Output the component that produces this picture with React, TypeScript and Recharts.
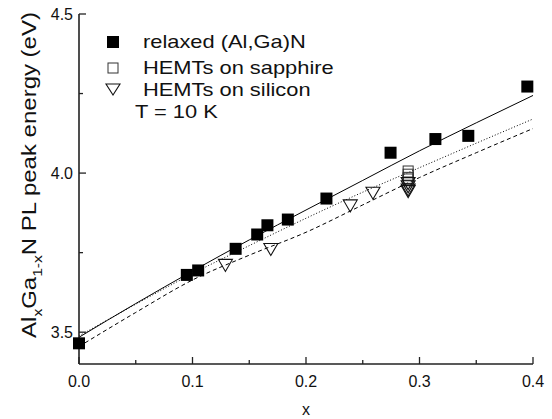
import React from 'react';
import {
  ComposedChart, Line, Scatter, XAxis, YAxis, Label,
} from 'recharts';

// measured points
const relaxedX = [0.0, 0.095, 0.105, 0.138, 0.157, 0.166, 0.184, 0.218, 0.2745, 0.314, 0.343, 0.395];
const relaxedY = [3.465, 3.68, 3.694, 3.762, 3.807, 3.836, 3.854, 3.92, 4.064, 4.107, 4.117, 4.272];

const sapphireX = [0.29, 0.29, 0.29, 0.29];
const sapphireY = [4.005, 3.995, 3.985, 3.98];

const siliconX = [0.129, 0.169, 0.239, 0.259, 0.29, 0.29, 0.29, 0.29];
const siliconY = [3.713, 3.763, 3.90, 3.94, 3.97, 3.96, 3.95, 3.945];

// fit curves
const fitX = [0, 0.05, 0.1, 0.15, 0.2, 0.25, 0.3, 0.35, 0.4];
const solidY = [3.484, 3.59, 3.692, 3.79, 3.884, 3.977, 4.07, 4.158, 4.244];
const dottedY = [3.488, 3.588, 3.684, 3.772, 3.858, 3.94, 4.017, 4.094, 4.17];
const dashedY = [3.455, 3.562, 3.664, 3.742, 3.814, 3.90, 3.986, 4.064, 4.14];

const xTicks = [0, 0.05, 0.1, 0.15, 0.2, 0.25, 0.3, 0.35, 0.4];
const xMajor = [0, 0.1, 0.2, 0.3, 0.4];
const yTicks = [3.5, 3.75, 4.0, 4.25, 4.5];
const yMajor = [3.5, 4.0, 4.5];

const pts = (xs: number[], ys: number[]) => xs.map((x, i) => ({ x, y: ys[i] }));

const relaxed = pts(relaxedX, relaxedY);
const sapphire = pts(sapphireX, sapphireY);
const silicon = pts(siliconX, siliconY);
const solid = pts(fitX, solidY);
const dotted = pts(fitX, dottedY);
const dashed = pts(fitX, dashedY);

const FONT = '"Liberation Sans", Arial, sans-serif';
const AX = '#222';

const isMajor = (v: number, list: number[]) => list.some((m) => Math.abs(m - v) < 1e-6);

const BottomTick = (p: any) => {
  const major = isMajor(p.payload.value, xMajor);
  return (
    <g>
      <line x1={p.x} y1={p.y} x2={p.x} y2={p.y - (major ? 7 : 4)} stroke={AX} strokeWidth={1.3} />
      {major && (
        <text x={p.x} y={p.y + 23} textAnchor="middle" fontSize={16} fontFamily={FONT} fill="#111">
          {p.payload.value.toFixed(1)}
        </text>
      )}
    </g>
  );
};

const TopTick = (p: any) => {
  const major = isMajor(p.payload.value, xMajor);
  return <line x1={p.x} y1={p.y} x2={p.x} y2={p.y + (major ? 7 : 4)} stroke={AX} strokeWidth={1.3} />;
};

const LeftTick = (p: any) => {
  const major = isMajor(p.payload.value, yMajor);
  return (
    <g>
      <line x1={p.x} y1={p.y} x2={p.x + (major ? 7 : 4)} y2={p.y} stroke={AX} strokeWidth={1.3} />
      {major && (
        <text x={p.x - 6} y={p.y + 6} textAnchor="end" fontSize={16} fontFamily={FONT} fill="#111">
          {p.payload.value.toFixed(1)}
        </text>
      )}
    </g>
  );
};

const RightTick = (p: any) => {
  const major = isMajor(p.payload.value, yMajor);
  return <line x1={p.x} y1={p.y} x2={p.x - (major ? 7 : 4)} y2={p.y} stroke={AX} strokeWidth={1.3} />;
};

const FilledSquare = (p: any) => <rect x={p.cx - 6} y={p.cy - 6} width={12} height={12} fill="#000" />;
const OpenSquare = (p: any) => (
  <rect x={p.cx - 5} y={p.cy - 5.5} width={10} height={11} fill="none" stroke="#333" strokeWidth={1} />
);
const DownTriangle = (p: any) => (
  <path
    d={`M${p.cx - 7},${p.cy - 5} L${p.cx + 7},${p.cy - 5} L${p.cx},${p.cy + 7} Z`}
    fill="none"
    stroke="#111"
    strokeWidth={1.1}
  />
);

const YLabel = () => (
  <text
    transform="translate(36,175) rotate(-90) scale(1.2,1)"
    textAnchor="middle"
    fontSize={20}
    fontFamily={FONT}
    fill="#111"
  >
    Al<tspan dy={6} fontSize={13}>x</tspan>
    <tspan dy={-6}>Ga</tspan>
    <tspan dy={6} fontSize={13}>1-x</tspan>
    <tspan dy={-6}>N PL peak energy (eV)</tspan>
  </text>
);

const legendText: React.CSSProperties = {
  position: 'absolute', fontFamily: FONT, fontSize: 19, color: '#111', lineHeight: '20px', whiteSpace: 'nowrap',
  transform: 'scaleX(1.15)', transformOrigin: 'left center',
};

export default function App() {
  return (
    <div style={{ position: 'absolute', left: 0, top: 0, width: 552, height: 419, background: '#fff' }}>
      <ComposedChart width={552} height={419} margin={{ top: 14, right: 19, bottom: 0, left: 0 }}>
        <XAxis
          dataKey="x" type="number" domain={[0, 0.4]} ticks={xTicks} interval={0}
          height={55} tickSize={0} tickMargin={0} tickLine={false}
          axisLine={{ stroke: AX, strokeWidth: 1.6 }} tick={<BottomTick />}
        >
          <Label value="x" position="insideBottom" offset={4} fontSize={16} fontFamily={FONT} fill="#111" />
        </XAxis>
        <XAxis
          xAxisId="top" orientation="top" dataKey="x" type="number" domain={[0, 0.4]} ticks={xTicks} interval={0}
          height={0} tickSize={0} tickMargin={0} tickLine={false}
          axisLine={{ stroke: AX, strokeWidth: 1.6 }} tick={<TopTick />}
        />
        <YAxis
          type="number" domain={[3.4, 4.5]} ticks={yTicks} interval={0} width={79}
          tickSize={0} tickMargin={0} tickLine={false}
          axisLine={{ stroke: AX, strokeWidth: 1.6 }} tick={<LeftTick />}
        >
          <Label content={<YLabel />} />
        </YAxis>
        <YAxis
          yAxisId="right" orientation="right" type="number" domain={[3.4, 4.5]} ticks={yTicks} interval={0} width={0}
          tickSize={0} tickMargin={0} tickLine={false}
          axisLine={{ stroke: AX, strokeWidth: 1.6 }} tick={<RightTick />}
        />
        <Line data={solid} dataKey="y" type="monotone" stroke="#000" strokeWidth={1} dot={false} isAnimationActive={false} />
        <Line data={dotted} dataKey="y" type="monotone" stroke="#000" strokeWidth={1} strokeDasharray="1 2" dot={false} isAnimationActive={false} />
        <Line data={dashed} dataKey="y" type="monotone" stroke="#000" strokeWidth={1} strokeDasharray="4 3" dot={false} isAnimationActive={false} />
        <Scatter data={relaxed} dataKey="y" shape={<FilledSquare />} isAnimationActive={false} />
        <Scatter data={sapphire} dataKey="y" shape={<OpenSquare />} isAnimationActive={false} />
        <Scatter data={silicon} dataKey="y" shape={<DownTriangle />} isAnimationActive={false} />
      </ComposedChart>

      {/* legend */}
      <svg style={{ position: 'absolute', left: 0, top: 0 }} width={552} height={419} pointerEvents="none">
        <rect x={107} y={36} width={12} height={12} fill="#000" />
        <rect x={108} y={63} width={10} height={10} fill="none" stroke="#333" />
        <path d="M106,84 L120,84 L113,95 Z" fill="none" stroke="#111" strokeWidth={1.1} />
      </svg>
      <div style={{ ...legendText, left: 143, top: 32 }}>relaxed (Al,Ga)N</div>
      <div style={{ ...legendText, left: 143, top: 58 }}>HEMTs on sapphire</div>
      <div style={{ ...legendText, left: 143, top: 80 }}>HEMTs on silicon</div>
      <div style={{ ...legendText, left: 135, top: 102 }}>T = 10 K</div>
    </div>
  );
}
